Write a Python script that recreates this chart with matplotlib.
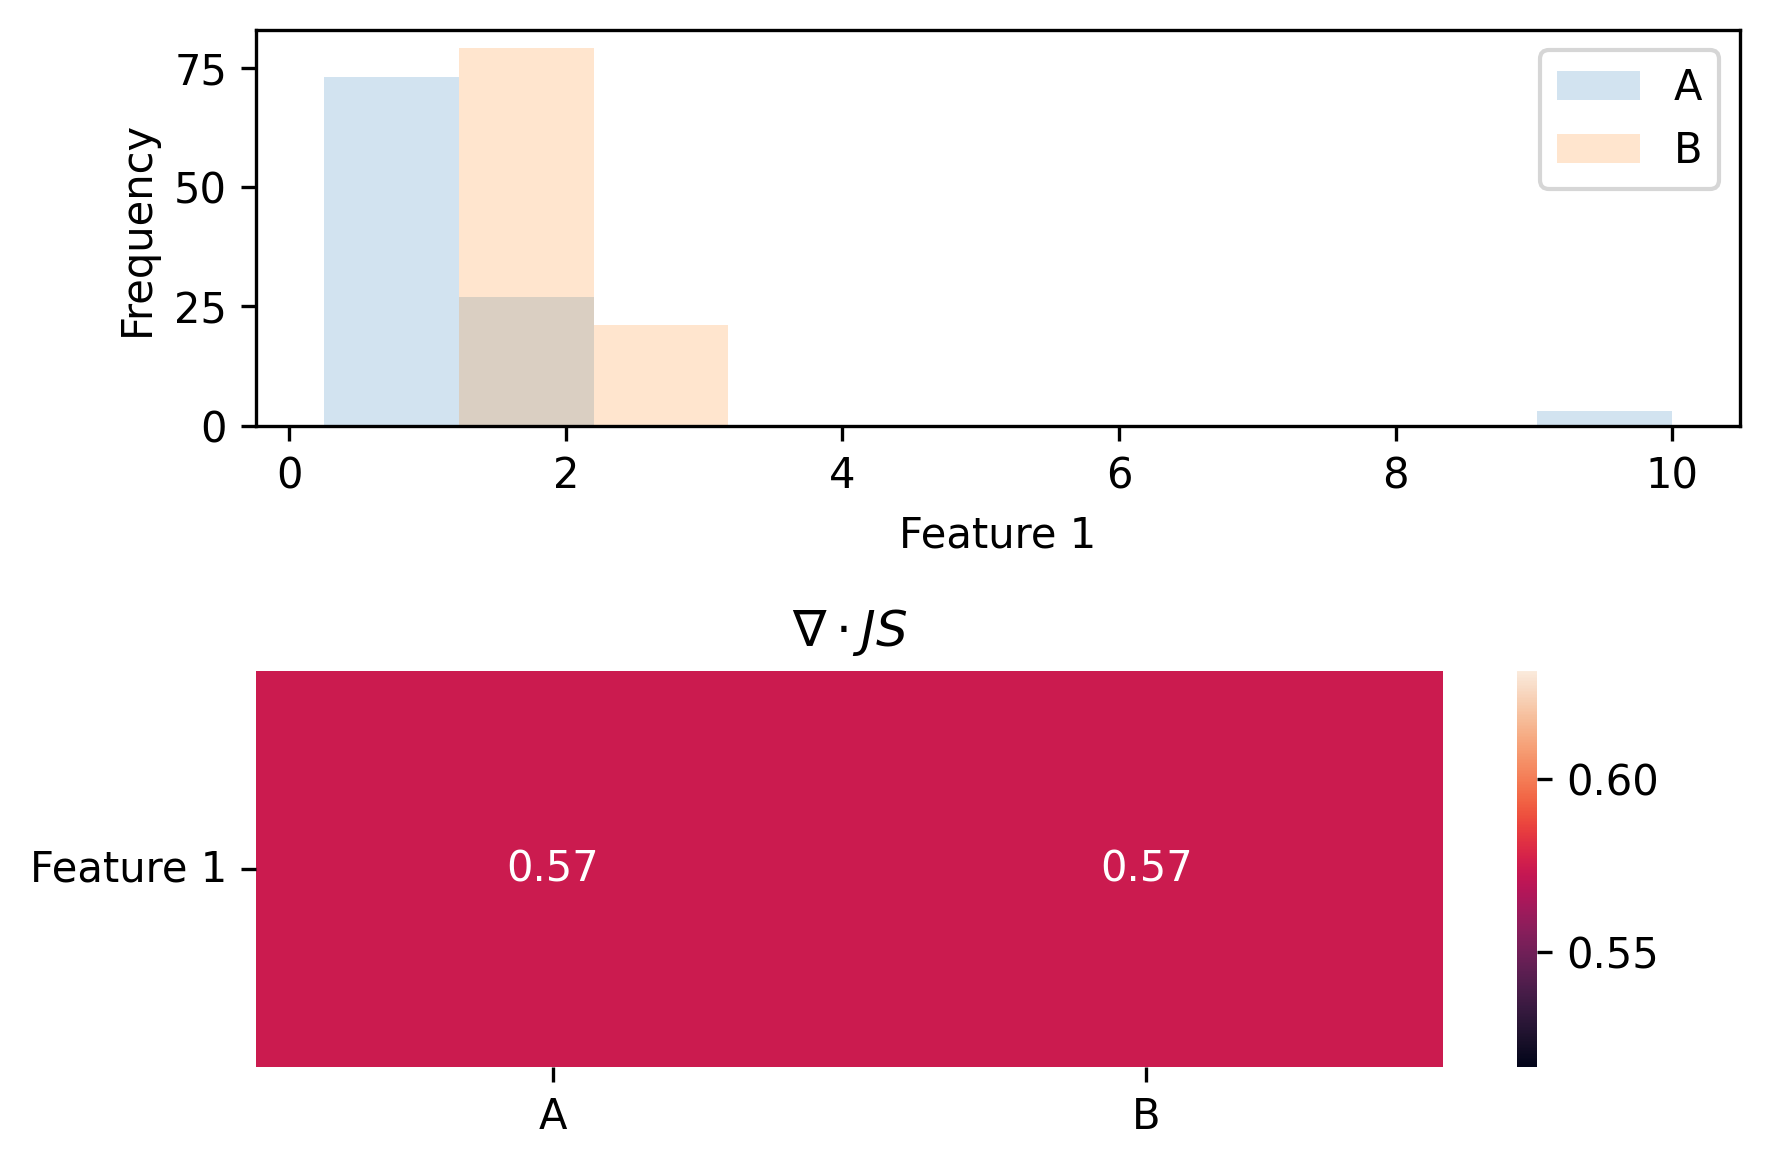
"""Histogram of Feature 1 per group plus JS-divergence heatmap."""

import matplotlib

matplotlib.use("Agg")

import matplotlib.pyplot as plt
import numpy as np
import pandas as pd
import seaborn as sns

# histogram data: range of the pooled feature values and bin counts per group
feature_min = 0.25
feature_max = 10.0
n_bins = 10
groups = ["A", "B"]
counts_a = [73, 27, 0, 0, 0, 0, 0, 0, 0, 3]
counts_b = [0, 79, 21, 0, 0, 0, 0, 0, 0, 0]

# heatmap data
features = ["Feature 1"]
js_values = [[0.574, 0.574]]


def main():
    fig, (ax1, ax2) = plt.subplots(2, 1, figsize=(6, 4))

    edges = np.linspace(feature_min, feature_max, n_bins + 1)
    for name, counts in zip(groups, [counts_a, counts_b]):
        ax1.hist(edges[:-1], bins=edges, weights=counts, alpha=0.2, label=name)
    ax1.set_xlabel("Feature 1")
    ax1.set_ylabel("Frequency")
    ax1.legend(loc="upper right")

    df = pd.DataFrame(js_values, index=features, columns=groups)
    sns.heatmap(df, annot=True, ax=ax2)
    ax2.set_title(r"$\nabla \cdot JS$")
    ax2.tick_params(axis="y", rotation=0)

    fig.tight_layout()
    fig.savefig("out.png", dpi=300, bbox_inches="tight")
    plt.close(fig)


if __name__ == "__main__":
    main()
